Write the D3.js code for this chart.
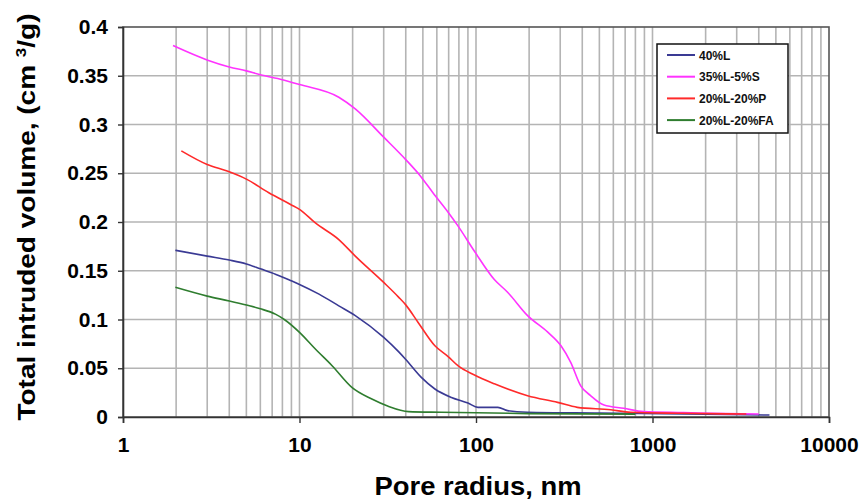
<!DOCTYPE html>
<html>
<head>
<meta charset="utf-8">
<script src="https://cdn.jsdelivr.net/npm/d3@7"></script>
<style>
  html, body { margin: 0; padding: 0; background: #fff; }
  text { font-family: "Liberation Sans", Arial, sans-serif; font-weight: bold; }
</style>
</head>
<body>
<svg id="chart" width="863" height="500"></svg>
<script>
// ---- data ----
const seriesNames = ["40%L", "35%L-5%S", "20%L-20%P", "20%L-20%FA"];
const seriesColors = ["#3a3a94", "#ff33ff", "#ff2a2a", "#2f7d2f"];

const radius40L = [1.98, 3, 4, 5, 6, 7.3, 8.9, 10, 12.9, 16.7, 20.7, 30, 36.4, 40, 49, 58.5, 72.6, 90, 102.6, 133, 151, 196, 500, 1500, 4600];
const volume40L = [0.171, 0.165, 0.161, 0.157, 0.152, 0.1465, 0.140, 0.136, 0.126, 0.114, 0.104, 0.0816, 0.067, 0.059, 0.0406, 0.0287, 0.020, 0.0143, 0.0099, 0.0099, 0.0065, 0.0048, 0.004, 0.003, 0.002];

const radius35L5S = [1.92, 3.02, 4, 5, 6, 8, 10, 16.7, 20.7, 30, 40, 49, 57, 69.5, 79, 98, 127, 151, 196, 255, 303, 344, 392, 446, 531, 688, 892, 1500, 2600, 4000];
const volume35L5S = [0.381, 0.366, 0.359, 0.355, 0.351, 0.346, 0.341, 0.328, 0.316, 0.287, 0.264, 0.246, 0.230, 0.210, 0.196, 0.170, 0.141, 0.128, 0.104, 0.087, 0.073, 0.056, 0.032, 0.022, 0.0123, 0.0089, 0.0055, 0.0045, 0.0035, 0.003];

const radius20L20P = [2.14, 3, 3.93, 5, 6.7, 8.9, 10, 12.3, 16.7, 20.7, 30, 36.4, 40, 47, 58.5, 69.5, 79, 98, 127, 196, 290, 375, 580, 750, 1430, 3400];
const volume20L20P = [0.273, 0.259, 0.252, 0.244, 0.230, 0.218, 0.213, 0.199, 0.182, 0.165, 0.138, 0.123, 0.115, 0.097, 0.073, 0.062, 0.0526, 0.043, 0.034, 0.0218, 0.015, 0.0099, 0.0075, 0.0048, 0.0038, 0.003];

const radius20L20FA = [1.98, 3, 4, 5, 6, 7.3, 8.2, 10, 12.3, 15.3, 19.8, 25.7, 31.8, 41.5, 63.5, 200, 800];
const volume20L20FA = [0.133, 0.124, 0.119, 0.1148, 0.111, 0.1055, 0.100, 0.0868, 0.0697, 0.0526, 0.0304, 0.0184, 0.011, 0.0055, 0.0048, 0.0035, 0.003];

const xTickValues = [1, 10, 100, 1000, 10000];
const xTickLabels = ["1", "10", "100", "1000", "10000"];
const yTickValues = [0, 0.05, 0.1, 0.15, 0.2, 0.25, 0.3, 0.35, 0.4];
const yTickLabels = ["0", "0.05", "0.1", "0.15", "0.2", "0.25", "0.3", "0.35", "0.4"];

const seriesRadius = [radius40L, radius35L5S, radius20L20P, radius20L20FA];
const seriesVolume = [volume40L, volume35L5S, volume20L20P, volume20L20FA];

// ---- layout ----
const L = 123, R = 829, T = 27, B = 417;
const svg = d3.select("#chart");
svg.append("rect").attr("width", 863).attr("height", 500).attr("fill", "#fff");

const x = d3.scaleLog().domain([1, 10000]).range([L, R]);
const y = d3.scaleLinear().domain([0, 0.4]).range([B, T]);

// minor/major vertical grid
const gridX = [];
for (let dec = 1; dec < 10000; dec *= 10) {
  for (let k = 1; k <= 9; k++) gridX.push(dec * k);
}

const grid = svg.append("g");
grid.selectAll("line.vx").data(gridX.filter(v => v > 1 && v < 10000)).join("line")
  .attr("x1", d => x(d)).attr("x2", d => x(d))
  .attr("y1", T).attr("y2", B)
  .attr("stroke", "#b4b4b4").attr("stroke-width", 1.6);
grid.selectAll("line.hy").data(yTickValues.filter(v => v > 0 && v < 0.4)).join("line")
  .attr("x1", L).attr("x2", R)
  .attr("y1", d => y(d)).attr("y2", d => y(d))
  .attr("stroke", "#b4b4b4").attr("stroke-width", 1.6);

// frame
svg.append("rect").attr("x", L).attr("y", T).attr("width", R - L).attr("height", B - T)
  .attr("fill", "none").attr("stroke", "#555").attr("stroke-width", 1.6);

// axes
const xAxis = d3.axisBottom(x).tickValues(xTickValues)
  .tickFormat((d, i) => xTickLabels[i]).tickSize(6).tickPadding(14);
const gx = svg.append("g").attr("transform", `translate(0,${B})`).call(xAxis);
gx.select(".domain").attr("stroke", "#333").attr("stroke-width", 1.6);
gx.selectAll(".tick line").attr("stroke", "#333").attr("stroke-width", 1.4);
gx.selectAll(".tick text").attr("font-size", 21).attr("fill", "#000")
  .attr("font-family", "'Liberation Sans', Arial, sans-serif").attr("font-weight", "bold");

const yAxis = d3.axisLeft(y).tickValues(yTickValues)
  .tickFormat((d, i) => yTickLabels[i]).tickSize(5).tickPadding(10);
const gy = svg.append("g").attr("transform", `translate(${L},0)`).call(yAxis);
gy.select(".domain").attr("stroke", "#333").attr("stroke-width", 1.6);
gy.selectAll(".tick line").attr("stroke", "#333").attr("stroke-width", 1.4);
gy.selectAll(".tick text").attr("font-size", 21).attr("fill", "#000")
  .attr("font-family", "'Liberation Sans', Arial, sans-serif").attr("font-weight", "bold");

// curves
const line = d3.line().x(d => x(d[0])).y(d => y(d[1])).curve(d3.curveMonotoneX);
seriesNames.forEach((name, i) => {
  const pts = seriesRadius[i].map((r, j) => [r, seriesVolume[i][j]]);
  svg.append("path").datum(pts)
    .attr("d", line).attr("fill", "none")
    .attr("stroke", seriesColors[i]).attr("stroke-width", 1.6);
});

// legend
const lg = svg.append("g");
lg.append("rect").attr("x", 657).attr("y", 44).attr("width", 131).attr("height", 89)
  .attr("fill", "#fff").attr("stroke", "#111").attr("stroke-width", 1.5);
seriesNames.forEach((name, i) => {
  const cy = 55 + i * 21.7;
  lg.append("line").attr("x1", 667).attr("x2", 695).attr("y1", cy).attr("y2", cy)
    .attr("stroke", seriesColors[i]).attr("stroke-width", 2);
  lg.append("text").attr("x", 699).attr("y", cy + 4.5).attr("font-size", 12)
    .attr("fill", "#111").text(name);
});

// axis titles
svg.append("text").attr("x", 478).attr("y", 495).attr("text-anchor", "middle")
  .attr("font-size", 25).attr("textLength", 207).attr("lengthAdjust", "spacingAndGlyphs")
  .text("Pore radius, nm");

const yt = svg.append("text")
  .attr("transform", "translate(35,217) rotate(-90)")
  .attr("text-anchor", "middle").attr("font-size", 23)
  .attr("textLength", 407).attr("lengthAdjust", "spacingAndGlyphs");
yt.append("tspan").text("Total intruded volume, (cm ");
yt.append("tspan").attr("font-size", 14).attr("dy", -9).text("3");
yt.append("tspan").attr("dy", 9).text("/g)");
</script>
</body>
</html>
